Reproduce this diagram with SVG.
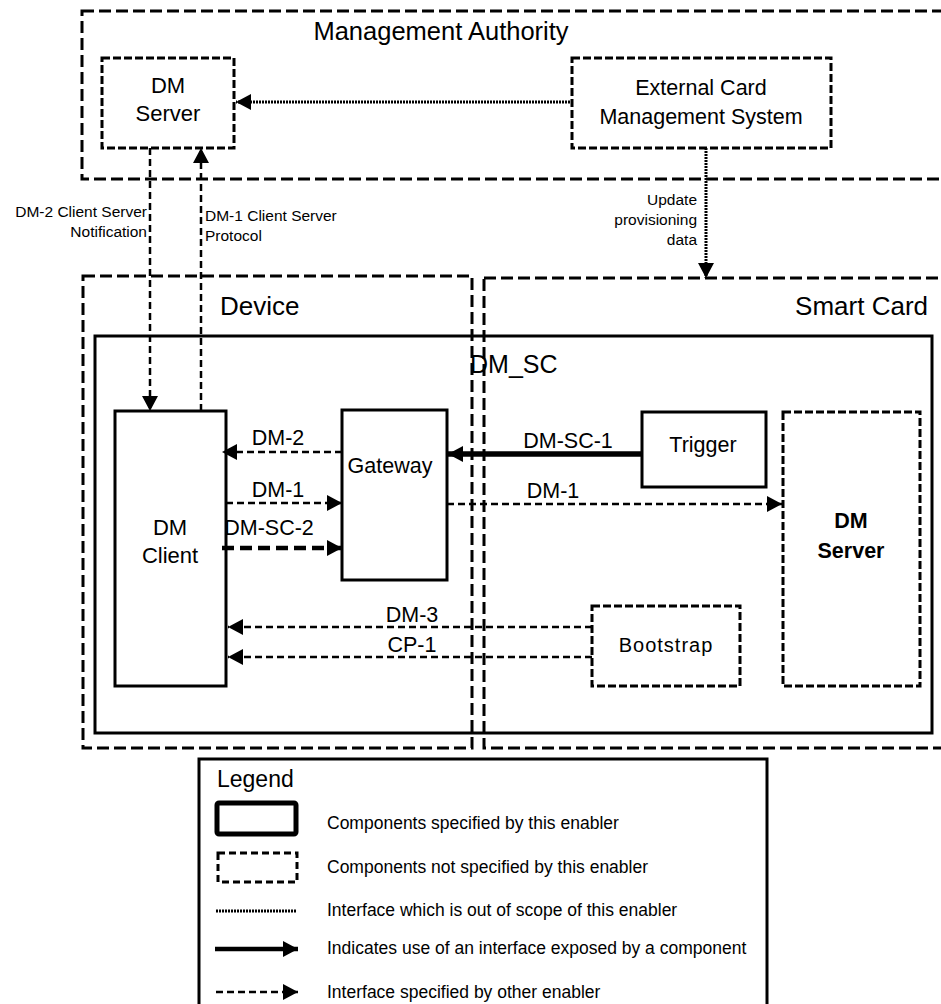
<svg xmlns="http://www.w3.org/2000/svg" width="941" height="1004" viewBox="0 0 941 1004">
<style>
text{font-family:"Liberation Sans",Arial,sans-serif;fill:#000}
.big{font-size:26px}
.mid{font-size:21.5px}
.sm{font-size:15.5px}
.lg{font-size:17.5px}
.solid{fill:#fff;stroke:#000;stroke-width:3}
.zone{fill:none;stroke:#000;stroke-width:3;stroke-dasharray:12,5}
.ndash{fill:#fff;stroke:#000;stroke-width:3;stroke-dasharray:8,3}
.dl{fill:none;stroke:#000;stroke-width:2.5;stroke-dasharray:7,4}
.dot{fill:none;stroke:#000;stroke-width:3;stroke-dasharray:2,1}
.thick{fill:none;stroke:#000;stroke-width:5.5}
.tdash{fill:none;stroke:#000;stroke-width:4.5;stroke-dasharray:12,6}
</style>
<defs>
<marker id="ah" markerUnits="userSpaceOnUse" markerWidth="15" markerHeight="16" refX="15" refY="8" orient="auto"><path d="M0,0 L15,8 L0,16 z" fill="#000"/></marker>
</defs>

<g id="management-authority">
<rect x="82" y="11" width="880" height="168" class="zone"/>
<text x="441" y="40" text-anchor="middle" style="font-size:25.5px">Management Authority</text>
</g>
<g id="device">
<rect x="83" y="276" width="389" height="472" class="zone" stroke-width="2.5" stroke-dasharray="10,4"/>
<text x="220" y="315" class="big">Device</text>
</g>
<g id="smart-card">
<rect x="484" y="278" width="480" height="470" class="zone" stroke-width="2.5" stroke-dasharray="10,4"/>
<text x="928" y="315" class="big" text-anchor="end">Smart Card</text>
</g>
<g id="dm-sc">
<rect x="95" y="336" width="837" height="397" fill="none" stroke="#000" stroke-width="3"/>
<text x="470" y="373" style="font-size:25px">DM_SC</text>
</g>

<g id="dm-server-top">
<rect x="102" y="58" width="132" height="90" class="ndash"/>
<text x="168" y="93" text-anchor="middle" style="font-size:22px">DM</text>
<text x="168" y="121" text-anchor="middle" style="font-size:22px">Server</text>
</g>
<g id="external-card">
<rect x="572" y="58" width="259" height="90" class="ndash"/>
<text x="701" y="95" class="mid" text-anchor="middle">External Card</text>
<text x="701" y="124" class="mid" text-anchor="middle">Management System</text>
</g>
<g id="dm-client">
<rect x="115" y="411" width="111" height="275" class="solid"/>
<text x="170" y="535" text-anchor="middle" style="font-size:22px">DM</text>
<text x="170" y="563" text-anchor="middle" style="font-size:22px">Client</text>
</g>
<g id="gateway">
<rect x="342" y="410" width="105" height="170" class="solid"/>
<text x="390" y="473" class="mid" text-anchor="middle">Gateway</text>
</g>
<g id="trigger">
<rect x="642" y="412" width="124" height="75" class="solid"/>
<text x="703" y="452" class="mid" text-anchor="middle">Trigger</text>
</g>
<g id="dm-server-card">
<rect x="783" y="412" width="137" height="274" class="ndash"/>
<text x="851" y="528" class="mid" text-anchor="middle" font-weight="bold">DM</text>
<text x="851" y="558" class="mid" text-anchor="middle" font-weight="bold">Server</text>
</g>
<g id="bootstrap">
<rect x="592" y="606" width="148" height="80" class="ndash"/>
<text x="666" y="652" text-anchor="middle" style="font-size:20px" letter-spacing="1">Bootstrap</text>
</g>

<g id="connectors">
<line x1="570" y1="102" x2="236" y2="102" class="dot" marker-end="url(#ah)"/>
<line x1="706" y1="148" x2="706" y2="278" class="dot" stroke-width="2.5" marker-end="url(#ah)"/>
<line x1="150" y1="148" x2="150" y2="411" class="dl" stroke-width="3" marker-end="url(#ah)"/>
<line x1="201" y1="411" x2="201" y2="148" class="dl" stroke-width="3" marker-end="url(#ah)"/>
<line x1="342" y1="452" x2="222" y2="452" class="dl" marker-end="url(#ah)"/>
<line x1="226" y1="503" x2="342" y2="503" class="dl" marker-end="url(#ah)"/>
<line x1="222" y1="548" x2="342" y2="548" class="tdash" marker-end="url(#ah)"/>
<line x1="642" y1="454" x2="448" y2="454" class="thick" marker-end="url(#ah)"/>
<line x1="447" y1="504" x2="782" y2="504" class="dl" marker-end="url(#ah)"/>
<line x1="592" y1="627" x2="228" y2="627" class="dl" stroke-width="3" marker-end="url(#ah)"/>
<line x1="592" y1="657" x2="228" y2="657" class="dl" stroke-width="3" marker-end="url(#ah)"/>
<text x="147" y="217" class="sm" text-anchor="end">DM-2 Client Server</text>
<text x="147" y="237" class="sm" text-anchor="end">Notification</text>
<text x="205" y="221" class="sm">DM-1 Client Server</text>
<text x="205" y="241" class="sm">Protocol</text>
<text x="697" y="205" class="sm" text-anchor="end">Update</text>
<text x="697" y="225" class="sm" text-anchor="end">provisioning</text>
<text x="697" y="245" class="sm" text-anchor="end">data</text>
<text x="278" y="445" class="mid" text-anchor="middle">DM-2</text>
<text x="278" y="497" class="mid" text-anchor="middle">DM-1</text>
<text x="269" y="535" class="mid" text-anchor="middle">DM-SC-2</text>
<text x="568" y="448" class="mid" text-anchor="middle">DM-SC-1</text>
<text x="553" y="498" class="mid" text-anchor="middle">DM-1</text>
<text x="412" y="622" class="mid" text-anchor="middle">DM-3</text>
<text x="412" y="652" class="mid" text-anchor="middle">CP-1</text>
</g>

<g id="legend">
<rect x="199" y="759" width="568" height="260" fill="#fff" stroke="#000" stroke-width="3"/>
<text x="217" y="787" style="font-size:23px">Legend</text>
<rect x="217" y="803" width="79" height="31" rx="2" fill="#fff" stroke="#000" stroke-width="5"/>
<rect x="218" y="853" width="79" height="29" fill="#fff" stroke="#000" stroke-width="3" stroke-dasharray="7,4"/>
<line x1="216" y1="911" x2="296" y2="911" class="dot" stroke-width="2.5"/>
<line x1="215" y1="949" x2="298" y2="949" stroke="#000" stroke-width="4.5" marker-end="url(#ah)"/>
<line x1="216" y1="992" x2="298" y2="992" class="dl" stroke-width="3" marker-end="url(#ah)"/>
<text x="327" y="829" class="lg">Components specified by this enabler</text>
<text x="327" y="873" class="lg">Components not specified by this enabler</text>
<text x="327" y="916" class="lg">Interface which is out of scope of this enabler</text>
<text x="327" y="954" class="lg">Indicates use of an interface exposed by a component</text>
<text x="327" y="998" class="lg">Interface specified by other enabler</text>
</g>
</svg>
